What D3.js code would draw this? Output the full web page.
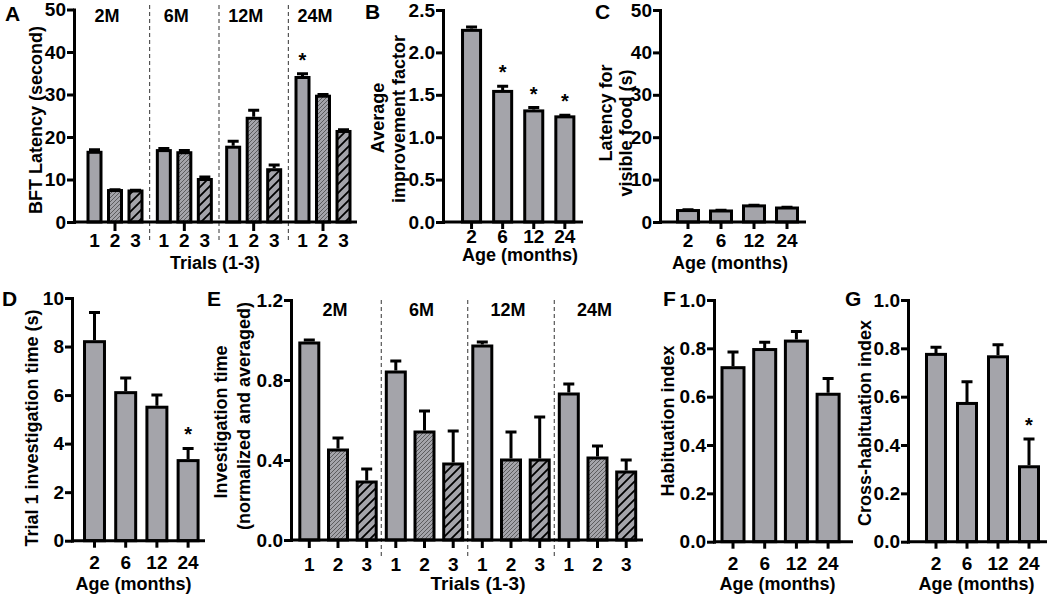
<!DOCTYPE html>
<html><head><meta charset="utf-8">
<script src="https://cdn.jsdelivr.net/npm/d3@7"></script>
<style>
body{margin:0;background:#fff}
text{font-family:"Liberation Sans",Arial,sans-serif;font-weight:bold;fill:#000}
</style>
</head><body>
<svg id="c" width="1050" height="595"></svg>
<script>
// ---------------- DATA ----------------
const ageGroups = ["2M","6M","12M","24M"];
const trials = ["1","2","3"];
const ages = ["2","6","12","24"];

// A: BFT latency (s) per age group, trials 1-3
const bftMean = [[16.4,7.4,7.3],[16.8,16.3,10.0],[17.6,24.4,12.3],[34.0,29.6,21.3]];
const bftErr  = [[0.6,0.2,0.2],[0.5,0.5,0.6],[1.4,1.9,1.1],[0.9,0.4,0.4]];
const bftStar = [[0,0,0],[0,0,0],[0,0,0],[1,0,0]];
const yTicksA = [0,10,20,30,40,50];

// B: average improvement factor
const improveMean = [2.26,1.54,1.31,1.24];
const improveErr  = [0.04,0.06,0.04,0.02];
const improveStar = [0,1,1,1];
const yTicksB = [0,0.5,1.0,1.5,2.0,2.5];

// C: latency for visible food (s)
const visibleMean = [2.7,2.6,3.8,3.3];
const visibleErr  = [0.2,0.2,0.15,0.15];
const yTicksC = [0,10,20,30,40,50];

// D: trial 1 investigation time (s)
const trial1Mean = [8.2,6.1,5.5,3.3];
const trial1Err  = [1.2,0.6,0.5,0.5];
const trial1Star = [0,0,0,1];
const yTicksD = [0,2,4,6,8,10];

// E: investigation time (normalized and averaged)
const invMean = [[0.985,0.45,0.29],[0.84,0.54,0.38],[0.97,0.40,0.40],[0.73,0.41,0.34]];
const invErr  = [[0.015,0.06,0.065],[0.055,0.105,0.165],[0.02,0.14,0.215],[0.05,0.06,0.06]];
const yTicksE = [0,0.4,0.8,1.2];

// F: habituation index
const habMean = [0.72,0.795,0.83,0.61];
const habErr  = [0.065,0.03,0.04,0.065];
const yTicksF = [0,0.2,0.4,0.6,0.8,1.0];

// G: cross-habituation index
const crossMean = [0.775,0.572,0.765,0.31];
const crossErr  = [0.03,0.09,0.05,0.115];
const crossStar = [0,0,0,1];
const yTicksG = [0,0.2,0.4,0.6,0.8,1.0];

// ---------------- DRAW ----------------
const GRAY = "#a4a4aa";
const FONT = 18, TICKFONT = 19;
const svg = d3.select("#c");
const defs = svg.append("defs");
const pf = defs.append("pattern").attr("id","fine").attr("patternUnits","userSpaceOnUse").attr("width",4).attr("height",4);
pf.append("rect").attr("width",4).attr("height",4).attr("fill",GRAY);
pf.append("path").attr("d","M-1,1 l2,-2 M0,4 l4,-4 M3,5 l2,-2").attr("stroke","#4a4a4a").attr("stroke-width",0.8);
const pc = defs.append("pattern").attr("id","coarse").attr("patternUnits","userSpaceOnUse").attr("width",9).attr("height",9);
pc.append("rect").attr("width",9).attr("height",9).attr("fill",GRAY);
pc.append("path").attr("d","M-2,2 l4,-4 M0,9 l9,-9 M7,11 l4,-4").attr("stroke","#000").attr("stroke-width",1.8);
const trialFill = [GRAY,"url(#fine)","url(#coarse)"];

function yAxis(y, x, ticks, fmt){
  const ax = svg.append("g").attr("transform",`translate(${x},0)`)
    .call(d3.axisLeft(y).tickValues(ticks).tickFormat(fmt).tickSize(7).tickSizeOuter(0).tickPadding(1));
  ax.select(".domain").attr("stroke","#000").attr("stroke-width",3).attr("stroke-linecap","square");
  ax.selectAll(".tick line").attr("stroke","#000").attr("stroke-width",3);
  ax.selectAll("text").attr("font-size",TICKFONT).attr("fill","#000");
  ax.attr("font-family",null).attr("font-size",null);
}
function xLine(x1,x2,y0){
  svg.append("line").attr("x1",x1).attr("x2",x2).attr("y1",y0).attr("y2",y0)
    .attr("stroke","#000").attr("stroke-width",3);
}
function bottomAxis(scale, tx, y0, baseline, tickSize, showText){
  const ax = svg.append("g").attr("transform",`translate(${tx},${y0})`)
    .call(d3.axisBottom(scale).tickSize(tickSize).tickSizeOuter(0));
  ax.select(".domain").remove();
  ax.attr("font-family",null).attr("font-size",null);
  ax.selectAll(".tick line").attr("stroke","#000").attr("stroke-width",3);
  if(showText){
    ax.selectAll("text").attr("font-size",TICKFONT).attr("fill","#000").attr("y",baseline-y0).attr("dy",null);
  } else ax.selectAll("text").remove();
}
function bars(items, y){
  const g = svg.append("g");
  g.selectAll("rect").data(items).join("rect")
    .attr("x",d=>d.cx-d.w/2).attr("y",d=>y(d.v)).attr("width",d=>d.w).attr("height",d=>y(0)-y(d.v))
    .attr("fill",d=>d.fill).attr("stroke","#000").attr("stroke-width",3);
  g.selectAll("path").data(items).join("path")
    .attr("d",d=>`M${d.cx},${y(d.v)-1.5}V${y(d.v+d.e)}M${d.cx-5.5},${y(d.v+d.e)}H${d.cx+5.5}`)
    .attr("stroke","#000").attr("stroke-width",3).attr("fill","none");
  g.selectAll("text").data(items.filter(d=>d.star)).join("text")
    .attr("x",d=>d.cx).attr("y",d=>y(d.v+d.e)-7).attr("text-anchor","middle").attr("font-size",20).text("*");
}
function text(t,x,y,opts={}){
  const el = svg.append("text").attr("x",x).attr("y",y).attr("font-size",opts.size||FONT).text(t);
  if(opts.anchor) el.attr("text-anchor",opts.anchor);
  return el;
}
function yTitle(t,x,cy){
  svg.append("text").attr("transform",`translate(${x},${cy}) rotate(-90)`).attr("text-anchor","middle")
    .attr("font-size",FONT).text(t);
}
function dashed(x,y1,y2){
  svg.append("line").attr("x1",x).attr("x2",x).attr("y1",y1).attr("y2",y2)
    .attr("stroke","#333").attr("stroke-width",1).attr("stroke-dasharray","4,3");
}
function simplePanel(cfg){
  const y = d3.scaleLinear().domain(cfg.domain).range([cfg.y0,cfg.yTop]);
  const x = d3.scaleBand().domain(ages).range(cfg.xr).paddingInner(cfg.pad).paddingOuter(cfg.pad/2);
  bars(ages.map((a,i)=>({cx:x(a)+x.bandwidth()/2,w:x.bandwidth(),v:cfg.mean[i],e:cfg.err[i],fill:GRAY,star:cfg.star?cfg.star[i]:0})), y);
  xLine(cfg.ax, cfg.xEnd, cfg.y0);
  yAxis(y, cfg.ax, cfg.ticks, cfg.fmt);
  bottomAxis(x, 0, cfg.y0, cfg.lb, 7, true);
  text("Age (months)", (cfg.ax+cfg.xEnd)/2 + (cfg.tdx||0), cfg.tb, {anchor:"middle"});
}

// ---- Panel A ----
{
  const y = d3.scaleLinear().domain([0,50]).range([222,9.5]);
  const gx = d3.scaleBand().domain(ageGroups).range([80.33,357.67]);
  const tx = d3.scaleBand().domain(trials).range([3.92,65.42]).paddingInner(0.366).paddingOuter(0.183);
  const items = [];
  ageGroups.forEach((g,gi)=>trials.forEach((t,ti)=>items.push({
    cx:gx(g)+tx(t)+tx.bandwidth()/2, w:tx.bandwidth(), v:bftMean[gi][ti], e:bftErr[gi][ti], fill:trialFill[ti], star:bftStar[gi][ti]})));
  bars(items, y);
  ageGroups.slice(1).forEach(g=>dashed(gx(g),5,240));
  xLine(74,357,222);
  yAxis(y,74,yTicksA,d3.format("d"));
  bottomAxis(gx,0,222,0,9,false);
  ageGroups.forEach(g=>bottomAxis(tx,gx(g),222,247,0,true));
  ageGroups.forEach(g=>text(g,gx(g)+gx.bandwidth()/2-8,21.5,{anchor:"middle"}));
  text("Trials (1-3)",215,268.5,{anchor:"middle",size:18});
  yTitle("BFT Latency (second)",42,120);
  text("A",5,21,{size:21});
}
// ---- Panel B ----
simplePanel({domain:[0,2.5],y0:222,yTop:10,xr:[456,580.4],pad:0.42,mean:improveMean,err:improveErr,star:improveStar,
  ax:443,xEnd:583,ticks:yTicksB,fmt:d3.format(".1f"),lb:243,tb:261,tdx:7});
yTitle("Average",384,118); yTitle("improvement factor",404.5,119);
text("B",365,19,{size:21});
// ---- Panel C ----
simplePanel({domain:[0,50],y0:222,yTop:10,xr:[671.5,803.5],pad:0.364,mean:visibleMean,err:visibleErr,
  ax:660,xEnd:806,ticks:yTicksC,fmt:d3.format("d"),lb:247,tb:269,tdx:-3});
yTitle("Latency for",611.5,113); yTitle("visible food (s)",631.5,133);
text("C",595,19,{size:21});
// ---- Panel D ----
simplePanel({domain:[0,10],y0:540.7,yTop:298,xr:[78.9,203.7],pad:0.36,mean:trial1Mean,err:trial1Err,star:trial1Star,
  ax:72,xEnd:205,ticks:yTicksD,fmt:d3.format("d"),lb:569,tb:590,tdx:-5});
yTitle("Trial 1 investigation time (s)",38,428);
text("D",2,306,{size:21});
// ---- Panel E ----
{
  const y = d3.scaleLinear().domain([0,1.2]).range([540,300]);
  const gx = d3.scaleBand().domain(ageGroups).range([294.75,640.75]);
  const tx = d3.scaleBand().domain(trials).range([0.2,86.3]).paddingInner(0.338).paddingOuter(0.169);
  const items = [];
  ageGroups.forEach((g,gi)=>trials.forEach((t,ti)=>items.push({
    cx:gx(g)+tx(t)+tx.bandwidth()/2, w:tx.bandwidth(), v:invMean[gi][ti], e:invErr[gi][ti], fill:trialFill[ti], star:0})));
  bars(items, y);
  ageGroups.slice(1).forEach(g=>dashed(gx(g),300,557));
  xLine(291,643,540);
  yAxis(y,291,yTicksE,d3.format(".1f"));
  ageGroups.forEach(g=>bottomAxis(tx,gx(g),540,571,8,true));
  ageGroups.forEach(g=>text(g,gx(g)+gx.bandwidth()/2-3,316,{anchor:"middle"}));
  text("Trials (1-3)",478,590,{anchor:"middle",size:19});
  yTitle("Investigation time",227,422); yTitle("(normalized and averaged)",249.6,416);
  text("E",207,306,{size:21});
}
// ---- Panel F ----
simplePanel({domain:[0,1],y0:541.7,yTop:300,xr:[717.15,843.95],pad:0.306,mean:habMean,err:habErr,
  ax:714,xEnd:853,ticks:yTicksF,fmt:d3.format(".1f"),lb:570,tb:590,tdx:-6});
yTitle("Habituation index",674,421);
text("F",663,306,{size:21});
// ---- Panel G ----
simplePanel({domain:[0,1],y0:541.7,yTop:300,xr:[920.5,1044.5],pad:0.387,mean:crossMean,err:crossErr,star:crossStar,
  ax:908,xEnd:1047,ticks:yTicksG,fmt:d3.format(".1f"),lb:570,tb:590,tdx:-1});
yTitle("Cross-habituation index",871,423);
text("G",845,306,{size:21});
</script>
</body></html>
